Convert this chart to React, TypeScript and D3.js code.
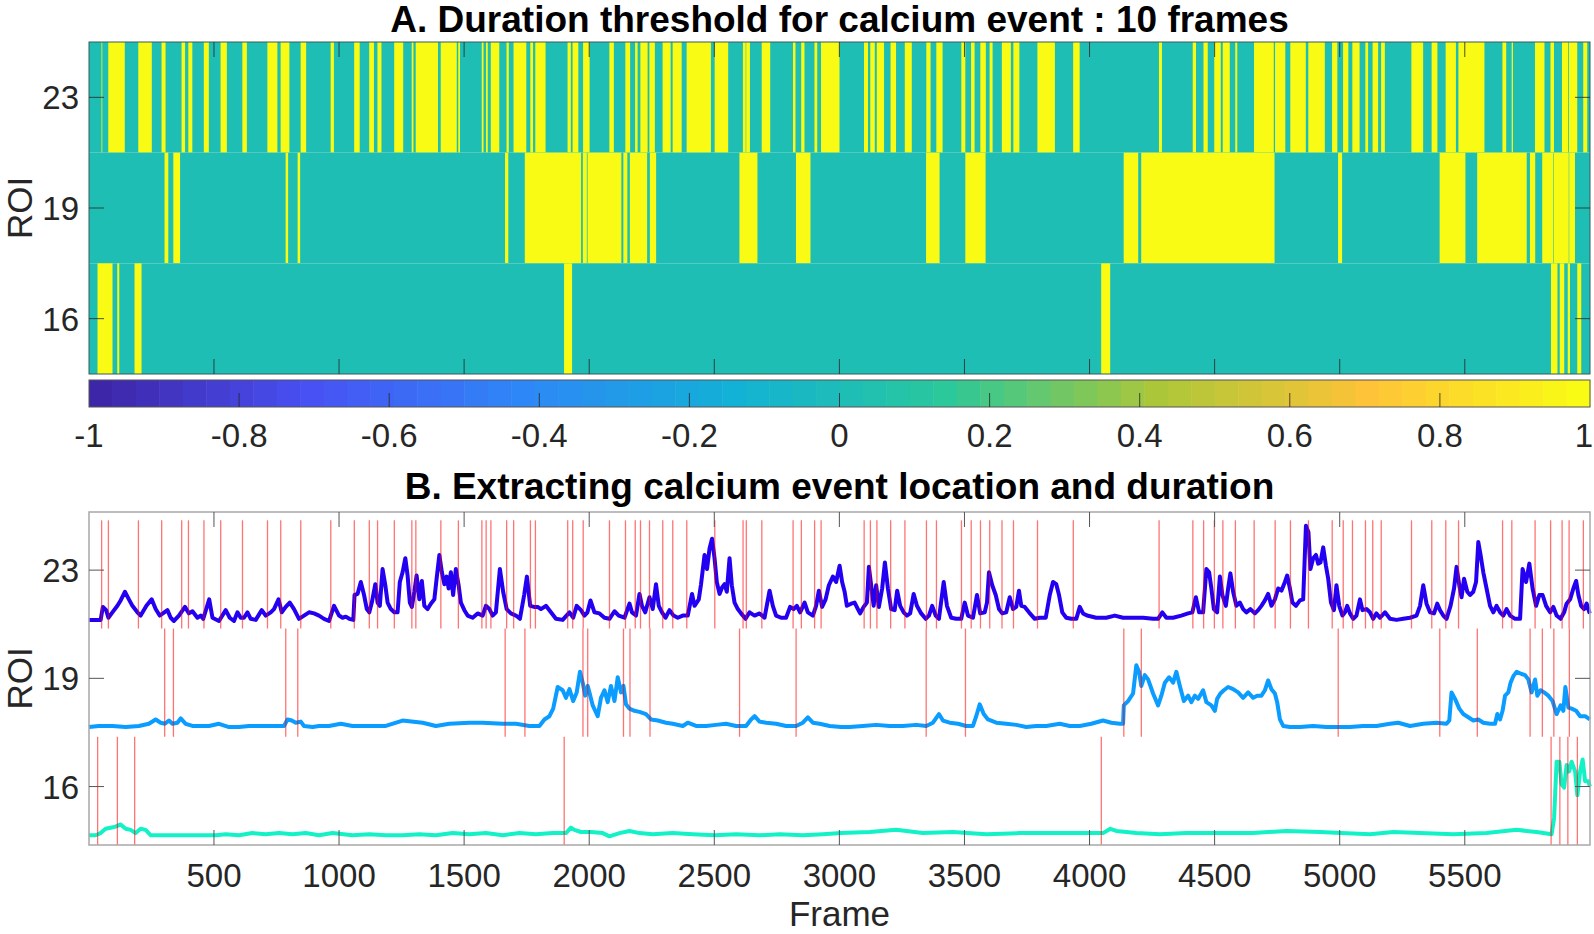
import React from 'react';
import * as d3 from 'd3';

// ---------------- DATA ----------------
const ROI_LABELS = ['23', '19', '16'];
const FRAME_TICKS = [500, 1000, 1500, 2000, 2500, 3000, 3500, 4000, 4500, 5000, 5500];
const CBAR_TICKS = [-1, -0.8, -0.6, -0.4, -0.2, 0, 0.2, 0.4, 0.6, 0.8, 1];
const CBAR_LABELS = ['-1', '-0.8', '-0.6', '-0.4', '-0.2', '0', '0.2', '0.4', '0.6', '0.8', '1'];

// calcium events [startFrame, endFrame] (value 1 in panel A)
const EVENTS_23: [number, number][] = [
  [51, 53], [78, 143], [198, 251], [291, 306], [371, 384], [398, 413], [460, 479], [527, 551], [614, 631], [714, 753], [767, 801], [847, 868], [967, 979],
  [1061, 1082], [1121, 1139], [1154, 1169], [1221, 1256], [1291, 1297], [1307, 1395], [1407, 1470], [1477, 1483], [1571, 1577], [1588, 1594], [1607, 1640], [1670, 1678], [1698, 1748], [1765, 1775], [1785, 1825], [1914, 1926], [1934, 1956], [1976, 2001],
  [2081, 2098], [2145, 2163], [2184, 2193], [2205, 2233], [2241, 2262], [2294, 2325], [2334, 2369], [2390, 2486], [2502, 2555], [2615, 2625], [2628, 2642], [2690, 2723], [2815, 2824], [2848, 2860], [2901, 2911], [2927, 3000],
  [3099, 3114], [3124, 3141], [3150, 3178], [3205, 3226], [3262, 3289], [3348, 3364], [3388, 3412], [3488, 3503], [3527, 3540], [3564, 3585], [3601, 3612], [3650, 3685], [3696, 3719], [3792, 3861], [3935, 3960],
  [4278, 4289], [4413, 4425], [4456, 4472], [4499, 4524], [4533, 4560], [4583, 4590], [4658, 4736], [4742, 4782], [4803, 4864], [4875, 4940], [4970, 4990], [5014, 5034], [5051, 5079], [5103, 5113], [5132, 5153], [5166, 5180], [5287, 5333], [5368, 5390], [5424, 5464], [5475, 5578], [5651, 5665], [5688, 5692], [5781, 5818], [5843, 5856], [5889, 5913], [5917, 5949], [5974, 5989],
];
const EVENTS_19: [number, number][] = [
  [303, 317], [338, 364], [787, 796], [835, 844], [1664, 1676], [1743, 1967], [1975, 1990], [1994, 2128], [2137, 2152], [2163, 2231], [2243, 2267], [2601, 2672], [2827, 2884], [3347, 3400], [3504, 3584],
  [4137, 4194], [4207, 4739], [4994, 5009], [5400, 5502], [5550, 5747], [5761, 5781], [5810, 5853], [5856, 5915], [5918, 5940],
];
const EVENTS_16: [number, number][] = [
  [35, 94], [114, 121], [183, 210], [1900, 1931], [4047, 4082], [5845, 5870], [5880, 5897], [5912, 5920], [5950, 5965],
];

// normalised fluorescence traces [frame, value]
const TRACE_23: [number, number][] = [
  [0, .08], [47, .08], [56, .20], [69, .17], [78, .10], [94, .15], [114, .21], [127, .26], [144, .34], [160, .27], [174, .21], [194, .15], [207, .12], [230, .21], [251, .27], [267, .18], [283, .12], [296, .14], [314, .17], [327, .10], [340, .07], [360, .12], [384, .20], [400, .14], [414, .16], [434, .10], [447, .12], [457, .09], [481, .27], [494, .10], [520, .07], [547, .17], [563, .10], [580, .07], [594, .15], [607, .10], [620, .10], [634, .15], [647, .09], [667, .08], [691, .17], [707, .12], [727, .15], [740, .18], [758, .27], [771, .15], [787, .20], [803, .24], [820, .18], [840, .09], [860, .12], [880, .15], [900, .14], [920, .12], [940, .09], [960, .07], [980, .21], [1000, .12],
  [1014, .10], [1027, .11], [1041, .09], [1057, .08], [1062, .31], [1074, .32], [1087, .43], [1100, .31], [1111, .18], [1121, .15], [1131, .24], [1145, .41], [1154, .24], [1163, .21], [1174, .55], [1185, .40], [1194, .24], [1207, .18], [1221, .15], [1234, .15], [1243, .43], [1254, .52], [1265, .65], [1274, .49], [1283, .24], [1291, .20], [1301, .34], [1310, .49], [1321, .27], [1331, .44], [1341, .21], [1354, .18], [1367, .23], [1381, .27], [1390, .46], [1401, .68], [1411, .52], [1421, .41], [1430, .48], [1438, .37], [1447, .52], [1456, .31], [1467, .55], [1478, .40], [1487, .24], [1501, .17], [1514, .12], [1534, .10], [1554, .14], [1574, .12], [1587, .21], [1601, .18], [1614, .12], [1627, .15], [1643, .55], [1656, .34], [1670, .18], [1687, .14], [1707, .12], [1723, .09], [1740, .31], [1751, .48], [1764, .21], [1780, .20], [1794, .20], [1807, .18], [1827, .21], [1847, .15], [1867, .09], [1894, .08], [1921, .15], [1936, .10], [1950, .21], [1967, .17], [1981, .12], [1993, .15], [2005, .26],
  [2021, .15], [2041, .14], [2061, .10], [2081, .09], [2101, .16], [2118, .12], [2141, .10], [2161, .23], [2171, .15], [2187, .12], [2201, .32], [2211, .21], [2224, .15], [2241, .29], [2254, .18], [2267, .41], [2278, .21], [2291, .15], [2305, .10], [2321, .17], [2337, .12], [2354, .10], [2374, .12], [2394, .12], [2411, .32], [2421, .21], [2438, .27], [2447, .41], [2461, .68], [2471, .55], [2481, .74], [2491, .83], [2501, .65], [2510, .43], [2521, .32], [2531, .38], [2541, .41], [2550, .34], [2561, .65], [2570, .40], [2581, .24], [2594, .18], [2607, .14], [2625, .09], [2641, .15], [2661, .12], [2681, .14], [2701, .10], [2721, .35], [2734, .21], [2747, .12], [2767, .10], [2787, .10], [2803, .20], [2817, .18], [2830, .21], [2843, .15], [2861, .24], [2874, .15], [2894, .12], [2907, .21], [2918, .35], [2931, .20], [2945, .27], [2958, .40], [2974, .48], [2987, .43], [3001, .58],
  [3011, .43], [3021, .34], [3030, .21], [3047, .23], [3061, .24], [3074, .18], [3083, .14], [3097, .20], [3110, .24], [3118, .57], [3127, .40], [3137, .21], [3147, .40], [3158, .20], [3171, .37], [3182, .61], [3194, .37], [3207, .18], [3221, .17], [3231, .35], [3243, .21], [3257, .15], [3270, .12], [3283, .14], [3297, .32], [3310, .21], [3327, .14], [3345, .09], [3358, .12], [3371, .21], [3385, .12], [3398, .09], [3417, .43], [3430, .21], [3447, .10], [3467, .09], [3487, .09], [3501, .24], [3514, .12], [3534, .10], [3550, .31], [3563, .14], [3581, .15], [3590, .24], [3598, .52], [3611, .40], [3625, .31], [3638, .18], [3651, .14], [3667, .15], [3681, .29], [3694, .18], [3707, .20], [3718, .35], [3727, .21], [3741, .20], [3758, .15], [3781, .09], [3801, .10], [3825, .10], [3841, .31], [3854, .43], [3867, .41], [3878, .31], [3891, .15], [3907, .10], [3927, .09], [3947, .09], [3961, .20], [3974, .14], [3990, .12],
  [4027, .10], [4067, .10], [4101, .12], [4134, .10], [4174, .10], [4214, .10], [4254, .09], [4274, .09], [4291, .15], [4307, .10], [4334, .10], [4367, .12], [4394, .14], [4411, .15], [4425, .29], [4438, .15], [4454, .15], [4467, .55], [4478, .52], [4487, .37], [4497, .18], [4510, .15], [4521, .48], [4531, .31], [4545, .21], [4554, .37], [4563, .51], [4574, .34], [4587, .21], [4601, .24], [4614, .18], [4627, .15], [4643, .18], [4661, .14], [4674, .17], [4687, .21], [4701, .26], [4714, .32], [4727, .21], [4741, .27], [4754, .37], [4767, .35], [4781, .43], [4790, .49], [4801, .37], [4811, .24], [4825, .21], [4841, .26], [4854, .27], [4865, .95], [4875, .89], [4883, .55], [4894, .65], [4905, .68], [4914, .60], [4923, .61], [4934, .75], [4945, .58], [4954, .46], [4965, .24], [4977, .17], [4987, .40], [4998, .21],
  [5011, .12], [5021, .15], [5030, .21], [5041, .14], [5054, .09], [5067, .12], [5081, .27], [5091, .17], [5107, .18], [5121, .15], [5134, .09], [5147, .14], [5161, .10], [5181, .15], [5201, .09], [5227, .08], [5254, .09], [5281, .10], [5307, .12], [5321, .21], [5334, .40], [5347, .23], [5361, .15], [5377, .14], [5390, .23], [5401, .17], [5414, .12], [5427, .09], [5443, .21], [5457, .37], [5467, .57], [5478, .40], [5487, .29], [5497, .46], [5510, .34], [5521, .31], [5534, .34], [5545, .43], [5554, .80], [5563, .68], [5574, .52], [5587, .37], [5601, .21], [5614, .15], [5627, .21], [5641, .15], [5654, .12], [5667, .18], [5681, .12], [5701, .09], [5721, .09], [5731, .55], [5745, .43], [5758, .60], [5771, .37], [5785, .21], [5798, .31], [5811, .31], [5825, .21], [5841, .15], [5854, .20], [5867, .12], [5883, .09], [5897, .15], [5907, .23], [5921, .27], [5934, .37], [5945, .44], [5954, .31], [5965, .21], [5977, .18], [5987, .23], [5998, .15], [6000, .14],
];
const TRACE_19: [number, number][] = [
  [0, .09], [40, .10], [94, .10], [147, .09], [200, .10], [240, .12], [267, .16], [287, .13], [304, .12], [320, .15], [334, .12], [354, .13], [367, .17], [387, .12], [414, .10], [447, .10], [480, .10], [520, .12], [560, .09], [600, .09], [640, .10], [680, .10], [734, .10], [780, .10], [794, .16], [811, .15], [827, .13], [847, .14], [860, .10], [894, .09], [920, .10], [960, .10],
  [1007, .12], [1054, .10], [1121, .10], [1187, .10], [1254, .15], [1334, .13], [1387, .10], [1441, .12], [1521, .13], [1574, .13], [1654, .12], [1707, .12], [1761, .10], [1801, .10], [1821, .16], [1841, .19], [1856, .26], [1874, .46], [1894, .43], [1907, .36], [1921, .44], [1936, .33], [1950, .41], [1963, .60], [1974, .50], [1984, .38], [1994, .47],
  [2001, .41], [2014, .29], [2034, .19], [2047, .36], [2061, .43], [2074, .32], [2087, .47], [2101, .33], [2114, .55], [2127, .41], [2137, .47], [2147, .30], [2161, .26], [2181, .24], [2201, .23], [2227, .21], [2247, .16], [2274, .15], [2307, .13], [2334, .12], [2374, .10], [2394, .13], [2427, .10], [2467, .10], [2507, .11], [2547, .12], [2587, .10], [2627, .10], [2647, .16], [2661, .19], [2681, .14], [2707, .13], [2747, .12], [2787, .10], [2827, .10], [2854, .13], [2874, .18], [2894, .13], [2921, .12], [2961, .10],
  [3007, .09], [3041, .09], [3094, .10], [3147, .11], [3201, .10], [3254, .10], [3307, .11], [3347, .10], [3374, .13], [3398, .21], [3414, .15], [3441, .13], [3474, .12], [3507, .10], [3534, .10], [3547, .19], [3561, .30], [3577, .21], [3594, .16], [3627, .13], [3667, .12], [3707, .11], [3747, .09], [3787, .10], [3827, .10], [3881, .12], [3921, .10], [3961, .10],
  [4007, .12], [4054, .15], [4087, .13], [4121, .12], [4134, .12], [4137, .29], [4154, .33], [4174, .40], [4187, .66], [4198, .60], [4207, .47], [4221, .57], [4234, .53], [4254, .40], [4274, .29], [4287, .38], [4301, .50], [4318, .55], [4334, .50], [4347, .60], [4361, .47], [4377, .33], [4394, .38], [4407, .32], [4421, .38], [4434, .35], [4454, .43], [4467, .32], [4487, .29], [4501, .24], [4510, .35], [4523, .40], [4537, .43], [4554, .46], [4574, .44], [4594, .41], [4614, .36], [4634, .41], [4654, .36], [4670, .38], [4687, .38], [4701, .43], [4714, .52], [4727, .44], [4741, .40], [4750, .32], [4761, .16], [4774, .10], [4801, .09], [4841, .09], [4894, .10], [4947, .09],
  [5001, .09], [5041, .09], [5094, .10], [5147, .10], [5201, .12], [5234, .13], [5281, .10], [5334, .12], [5387, .13], [5427, .12], [5438, .15], [5447, .41], [5461, .35], [5478, .26], [5494, .21], [5514, .18], [5534, .15], [5554, .16], [5574, .13], [5601, .12], [5621, .12], [5630, .21], [5641, .16], [5651, .24], [5661, .38], [5674, .41], [5683, .50], [5694, .56], [5707, .60], [5727, .58], [5741, .57], [5754, .53], [5767, .41], [5781, .53], [5790, .38], [5803, .43], [5817, .41], [5834, .38], [5851, .33], [5867, .21], [5883, .29], [5894, .24], [5902, .46], [5914, .27], [5927, .26], [5945, .24], [5961, .19], [5981, .19], [6000, .16],
];
const TRACE_16: [number, number][] = [
  [0, .09], [27, .09], [47, .11], [67, .15], [87, .16], [107, .17], [127, .19], [147, .15], [167, .14], [187, .11], [207, .15], [227, .14], [247, .09], [294, .09], [347, .09], [400, .09], [454, .09], [507, .09], [547, .10], [600, .09], [654, .11], [707, .10], [760, .11], [814, .10], [867, .11], [920, .09], [974, .11],
  [1054, .09], [1121, .10], [1187, .09], [1254, .09], [1321, .10], [1387, .09], [1454, .11], [1521, .10], [1587, .11], [1654, .09], [1721, .11], [1787, .10], [1854, .11], [1907, .11], [1927, .16], [1941, .14], [1967, .12],
  [2007, .12], [2054, .11], [2081, .08], [2121, .11], [2161, .13], [2201, .11], [2254, .10], [2334, .11], [2414, .10], [2501, .09], [2587, .10], [2681, .09], [2761, .10], [2854, .09], [2934, .10],
  [3007, .11], [3121, .12], [3227, .14], [3334, .11], [3454, .12], [3587, .10], [3720, .11], [3854, .11], [3987, .11],
  [4054, .11], [4083, .15], [4107, .13], [4187, .11], [4281, .10], [4387, .11], [4521, .11], [4654, .11], [4787, .13], [4921, .12],
  [5007, .11], [5121, .10], [5214, .12], [5321, .11], [5454, .10], [5587, .11], [5707, .14], [5787, .12], [5847, .10], [5857, .25], [5867, .77], [5878, .77], [5887, .56], [5897, .53], [5907, .74], [5917, .68], [5927, .77], [5941, .68], [5950, .46], [5961, .68], [5971, .79], [5981, .59], [5994, .59], [6000, .54],
];

// ---------------- STYLE ----------------
const PARULA_ANCHORS = ['#3e26a8', '#4852f4', '#2e87f7', '#12b1d6', '#2ac89a', '#abc739', '#fec338', '#f9fb15'];
const FONT = '"Liberation Sans", Arial, Helvetica, sans-serif';
const W = 1594, H = 934;
const PL = 89, PR = 1590;
const A_TOP = 42, A_BOT = 374;
const CB_TOP = 380, CB_BOT = 407;
const B_TOP = 512, B_BOT = 845;
const B_SPAN = 3.077;
const TL = 15;

export default function App() {
  const x = d3.scaleLinear().domain([0.5, 6000.5]).range([PL, PR]);
  const rows = d3.scaleBand<string>().domain(ROI_LABELS).range([A_TOP, A_BOT]);
  const cbx = d3.scaleLinear().domain([-1, 1]).range([PL, PR]);
  const yB = d3.scaleLinear().domain([0, B_SPAN]).range([B_BOT, B_TOP]);
  const interp = d3.piecewise(d3.interpolateRgb, PARULA_ANCHORS);
  const cmap = d3.range(64).map((i) => d3.color(interp(i / 63))!.formatHex());
  const colorOf = (v: number) => cmap[Math.max(0, Math.min(63, Math.floor(((v + 1) / 2) * 64)))];

  const series = [
    { roi: '23', offset: 2, events: EVENTS_23, trace: TRACE_23, color: '#2400f2' },
    { roi: '19', offset: 1, events: EVENTS_19, trace: TRACE_19, color: '#0a9cff' },
    { roi: '16', offset: 0, events: EVENTS_16, trace: TRACE_16, color: '#12f2c6' },
  ];

  const tickColor = '#262626';
  const TICK_FS = 33;
  const LABEL_FS = 35;
  const TITLE_FS = 37;

  return (
    <div style={{ position: 'absolute', left: 0, top: 0 }}>
      <svg width={W} height={H} style={{ display: 'block', background: '#fff' }} fontFamily={FONT}>
        {/* ===== Panel A ===== */}
        <text x={(PL + PR) / 2} y={32} textAnchor="middle" fontWeight="bold" fontSize={TITLE_FS} fill="#000">
          A. Duration threshold for calcium event : 10 frames
        </text>
        {series.map((s) => (
          <g key={'row' + s.roi}>
            <rect x={PL} y={rows(s.roi)!} width={PR - PL} height={rows.bandwidth()} fill={colorOf(0)} />
            {s.events.map(([a, b], i) => (
              <rect key={i} x={x(a - 0.5)} y={rows(s.roi)!} width={x(b + 0.5) - x(a - 0.5)} height={rows.bandwidth()} fill={colorOf(1)} />
            ))}
          </g>
        ))}
        <rect x={PL} y={A_TOP} width={PR - PL} height={A_BOT - A_TOP} fill="none" stroke="#3a5a58" strokeWidth={1} />
        {FRAME_TICKS.map((t) => (
          <g key={'at' + t} stroke={tickColor} strokeOpacity={0.8}>
            <line x1={x(t)} x2={x(t)} y1={A_BOT} y2={A_BOT - TL} />
            <line x1={x(t)} x2={x(t)} y1={A_TOP} y2={A_TOP + TL} />
          </g>
        ))}
        {ROI_LABELS.map((r) => {
          const yy = rows(r)! + rows.bandwidth() / 2;
          return (
            <g key={'ay' + r}>
              <line x1={PL} x2={PL + TL} y1={yy} y2={yy} stroke={tickColor} strokeOpacity={0.8} />
              <line x1={PR} x2={PR - TL} y1={yy} y2={yy} stroke={tickColor} strokeOpacity={0.8} />
              <text x={79} y={yy + 12} textAnchor="end" fontSize={TICK_FS} fill={tickColor}>{r}</text>
            </g>
          );
        })}
        <text transform={`translate(32,${(A_TOP + A_BOT) / 2}) rotate(-90)`} textAnchor="middle" fontSize={LABEL_FS} fill={tickColor}>ROI</text>

        {/* colorbar */}
        {cmap.map((c, i) => (
          <rect key={'cb' + i} x={cbx(-1 + (2 * i) / 64)} y={CB_TOP} width={cbx(-1 + (2 * (i + 1)) / 64) - cbx(-1 + (2 * i) / 64) + 0.5} height={CB_BOT - CB_TOP} fill={c} />
        ))}
        <rect x={PL} y={CB_TOP} width={PR - PL} height={CB_BOT - CB_TOP} fill="none" stroke="#555" strokeWidth={1} />
        {CBAR_TICKS.map((t, i) => {
          const last = i === CBAR_TICKS.length - 1;
          return (
            <g key={'cbt' + i}>
              {i > 0 && !last && (
                <line x1={cbx(t)} x2={cbx(t)} y1={CB_BOT} y2={CB_BOT - 14} stroke={tickColor} strokeOpacity={0.8} />
              )}
              <text x={last ? W - 1 : cbx(t)} y={447} textAnchor={last ? 'end' : 'middle'} fontSize={TICK_FS} fill={tickColor}>{CBAR_LABELS[i]}</text>
            </g>
          );
        })}

        {/* ===== Panel B ===== */}
        <text x={(PL + PR) / 2} y={499} textAnchor="middle" fontWeight="bold" fontSize={TITLE_FS} fill="#000">
          B. Extracting calcium event location and duration
        </text>
        {series.map((s) => {
          const line = d3.line<[number, number]>().x((d) => x(d[0])).y((d) => yB(d[1] + s.offset));
          return (
            <path key={'tr' + s.roi} d={line(s.trace)!} fill="none" stroke={s.color} strokeWidth={4} strokeLinejoin="round" />
          );
        })}
        {series.map((s) => (
          <g key={'ev' + s.roi} stroke="#ff0000" strokeOpacity={0.55} strokeWidth={1.3}>
            {s.events.map(([a], i) => (
              <line key={i} x1={x(a)} x2={x(a)} y1={yB(s.offset)} y2={yB(s.offset + 1)} />
            ))}
          </g>
        ))}
        <rect x={PL} y={B_TOP} width={PR - PL} height={B_BOT - B_TOP} fill="none" stroke="#a8a8a8" strokeWidth={1.5} />
        {FRAME_TICKS.map((t) => (
          <g key={'bt' + t}>
            <line x1={x(t)} x2={x(t)} y1={B_BOT} y2={B_BOT - TL} stroke="#555" />
            <line x1={x(t)} x2={x(t)} y1={B_TOP} y2={B_TOP + TL} stroke="#555" />
            <text x={x(t)} y={887} textAnchor="middle" fontSize={TICK_FS} fill={tickColor}>{t}</text>
          </g>
        ))}
        {series.map((s) => {
          const yy = yB(s.offset + 0.54);
          return (
            <g key={'by' + s.roi}>
              <line x1={PL} x2={PL + TL} y1={yy} y2={yy} stroke="#555" />
              <line x1={PR} x2={PR - TL} y1={yy} y2={yy} stroke="#555" />
              <text x={79} y={yy + 12} textAnchor="end" fontSize={TICK_FS} fill={tickColor}>{s.roi}</text>
            </g>
          );
        })}
        <text transform={`translate(32,${(B_TOP + B_BOT) / 2}) rotate(-90)`} textAnchor="middle" fontSize={LABEL_FS} fill={tickColor}>ROI</text>
        <text x={(PL + PR) / 2} y={926} textAnchor="middle" fontSize={35} fill={tickColor}>Frame</text>
      </svg>
    </div>
  );
}
